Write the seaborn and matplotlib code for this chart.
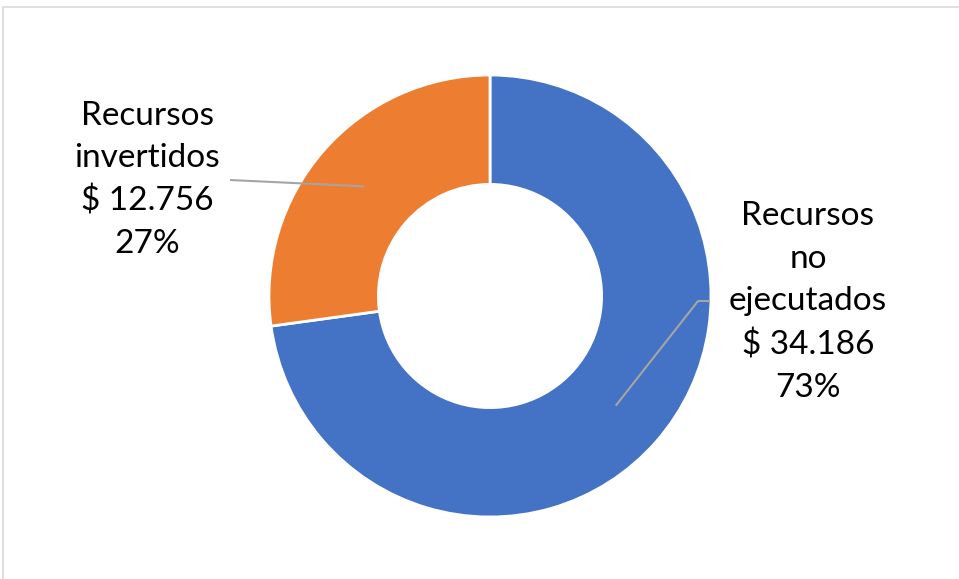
import numpy as np
import matplotlib
matplotlib.use("Agg")
import matplotlib.pyplot as plt
from matplotlib.patches import Rectangle
import seaborn as sns

# data
labels = ["Recursos\nno\nejecutados", "Recursos\ninvertidos"]
values = [34186, 12756]
money = ["$ 34.186", "$ 12.756"]
colors = ["#4472C4", "#ED7D31"]

sns.set_theme(style="white")
plt.rcParams["font.family"] = ["Lato", "DejaVu Sans"]

W, H = 959, 579
fig = plt.figure(figsize=(W / 100, H / 100), dpi=100)
fig.patch.set_facecolor("white")

# donut centre (490, 296) px, outer radius 221 px
cx, cy, r = 490, 296, 221
ax = fig.add_axes([(cx - r) / W, (H - cy - r) / H, 2 * r / W, 2 * r / H])

wedges, _ = ax.pie(values, colors=colors, startangle=90, counterclock=False,
                   radius=1, wedgeprops=dict(width=0.495, edgecolor="white", linewidth=2))
ax.set_xlim(-1, 1)
ax.set_ylim(-1, 1)
ax.set_aspect("equal")
ax.axis("off")

total = sum(values)
pct = [f"{round(v / total * 100)}%" for v in values]

def px(x, y):
    # figure pixel -> data coords
    return (x - cx) / r, (cy - y) / r

# label positions (pixels) and leader line anchors
label_pos = [px(808, 302), px(147, 180)]
line_start = [[px(710, 301), px(698, 301)], [px(230, 180)]]

for i, w in enumerate(wedges):
    ang = np.deg2rad((w.theta1 + w.theta2) / 2)
    tip = (0.755 * np.cos(ang), 0.755 * np.sin(ang))
    pts = line_start[i] + [tip]
    ax.plot([p[0] for p in pts], [p[1] for p in pts], color="#A5A5A5", lw=1.5,
            clip_on=False, solid_capstyle="butt")
    ax.text(label_pos[i][0], label_pos[i][1], f"{labels[i]}\n{money[i]}\n{pct[i]}",
            ha="center", va="center", fontsize=24, color="black", linespacing=1.52,
            clip_on=False)

# light chart frame
fig.patches.append(Rectangle((3 / W, -0.01), 1.0, (H - 7) / H + 0.01, transform=fig.transFigure,
                             fill=False, edgecolor="#D9D9D9", lw=1.2))

fig.savefig("out.png", dpi=100)
